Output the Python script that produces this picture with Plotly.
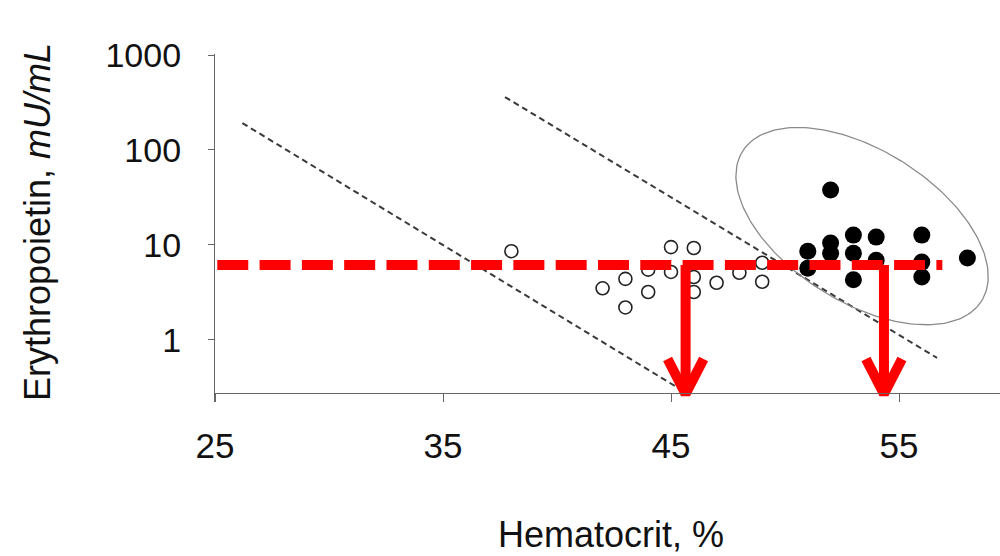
import numpy as np
import plotly.graph_objects as go

# ---------------- data ----------------
x_ticks = [25, 35, 45, 55]
y_ticks = [1, 10, 100, 1000]
y_tick_labels = ["1", "10", "100", "1000"]

# open circles (control group)
open_hct = [38, 45, 46, 44, 45, 46, 43, 42, 44, 46, 47, 48, 49, 43, 49]
open_epo = [8.6, 9.5, 9.3, 5.5, 5.2, 4.6, 4.4, 3.5, 3.2, 3.2, 4.0, 5.1, 4.1, 2.2, 6.5]

# filled circles (erythrocytosis group)
filled_hct = [51, 51, 52, 52, 52, 53, 53, 53, 54, 54, 56, 56, 56, 58]
filled_epo = [8.6, 5.7, 10.5, 8.2, 37.9, 12.7, 8.2, 4.3, 12.1, 6.9, 12.7, 6.6, 4.6, 7.3]

# dashed reference lines (hematocrit, EPO) start/end
line1_hct = [26.2, 45.75]
line1_epo = [192, 0.27]
line2_hct = [37.72, 56.67]
line2_epo = [361, 0.647]

# ellipse (center hct, center EPO)
ellipse_center_hct = 53.38
ellipse_center_epo = 15.8

# red threshold and arrows
threshold_epo = 6.16
threshold_hct = [25.1, 56.9]
arrow_hct = [45.64, 54.34]
arrow_tip_epo = 0.27

# ---------------- layout geometry ----------------
W, H = 1000, 556
L, R, T, B = 215, 0, 54, 154
plot_w = W - L - R
plot_h = H - T - B
x_range = [25, 25 + plot_w / 22.8]
y_range = [-0.653, 3.0105]
px_per_x = plot_w / (x_range[1] - x_range[0])
px_per_dec = plot_h / (y_range[1] - y_range[0])

FONT = "Liberation Sans, Arial, Helvetica, sans-serif"

fig = go.Figure()

# black dashed diagonal lines
for xs, ys in [(line1_hct, line1_epo), (line2_hct, line2_epo)]:
    fig.add_trace(go.Scatter(x=xs, y=ys, mode="lines",
                             line=dict(color="#3a3a3a", width=2, dash="6px,4px"),
                             showlegend=False, hoverinfo="skip"))

# ellipse (pixel-space parameters converted to data)
a_px, b_px, ang = 141, 76, np.deg2rad(32)
t = np.linspace(0, 2 * np.pi, 200)
dx_px = a_px * np.cos(t) * np.cos(ang) - b_px * np.sin(t) * np.sin(ang)
dy_px = a_px * np.cos(t) * np.sin(ang) + b_px * np.sin(t) * np.cos(ang)
ell_x = ellipse_center_hct + dx_px / px_per_x
ell_y = 10 ** (np.log10(ellipse_center_epo) - dy_px / px_per_dec)
fig.add_trace(go.Scatter(x=ell_x, y=ell_y, mode="lines",
                         line=dict(color="#8a8a8a", width=1.3),
                         showlegend=False, hoverinfo="skip"))

# open circles
fig.add_trace(go.Scatter(x=open_hct, y=open_epo, mode="markers",
                         marker=dict(symbol="circle", size=13, color="white",
                                     line=dict(color="#222222", width=1.6)),
                         showlegend=False))
# filled circles
fig.add_trace(go.Scatter(x=filled_hct, y=filled_epo, mode="markers",
                         marker=dict(symbol="circle", size=17, color="#000000",
                                     line=dict(width=0)),
                         showlegend=False))

# red dashed threshold line
fig.add_trace(go.Scatter(x=threshold_hct, y=[threshold_epo, threshold_epo], mode="lines",
                         line=dict(color="#ff0000", width=10, dash="31px,11.3px"),
                         showlegend=False, hoverinfo="skip"))

# red arrows
arm_dx = 18 / px_per_x
arm_dlog = 35 / px_per_dec
for ax_ in arrow_hct:
    tip_log = np.log10(arrow_tip_epo)
    xs = [ax_, ax_, None, ax_ - arm_dx, ax_, ax_ + arm_dx]
    ys = [threshold_epo, arrow_tip_epo, None,
          10 ** (tip_log + arm_dlog), arrow_tip_epo, 10 ** (tip_log + arm_dlog)]
    fig.add_trace(go.Scatter(x=xs, y=ys, mode="lines",
                             line=dict(color="#ff0000", width=10),
                             showlegend=False, hoverinfo="skip"))

fig.update_layout(
    width=W, height=H,
    margin=dict(l=L, r=R, t=T, b=B, pad=0),
    paper_bgcolor="white", plot_bgcolor="white",
    font=dict(family=FONT, color="#111111"),
    xaxis=dict(range=x_range, tickvals=x_ticks, ticktext=[str(v) for v in x_ticks],
               showgrid=False, zeroline=False, showline=True, linecolor="#666666",
               linewidth=1.3, ticks="outside", ticklen=8, tickcolor="#666666",
               ticklabelstandoff=14,
               tickfont=dict(size=35, family=FONT, color="#111111"),
               anchor="free", position=9 / plot_h),
    yaxis=dict(type="log", range=y_range, tickvals=y_ticks, ticktext=y_tick_labels,
               showgrid=False, zeroline=False, showline=True, linecolor="#666666",
               linewidth=1.3, ticks="outside", ticklen=6, tickcolor="#666666",
               ticklabelstandoff=20,
               tickfont=dict(size=34, family=FONT, color="#111111")),
    annotations=[
        dict(text="Hematocrit, %", xref="paper", yref="paper",
             x=(611 - L) / plot_w, y=(H - B - 534) / plot_h,
             showarrow=False, xanchor="center", yanchor="middle",
             font=dict(size=36, family=FONT, color="#111111")),
        dict(text="Erythropoietin, <i>mU/mL</i>", xref="paper", yref="paper",
             x=(37 - L) / plot_w, y=(H - B - 222) / plot_h, textangle=-90,
             showarrow=False, xanchor="center", yanchor="middle",
             font=dict(size=36, family=FONT, color="#111111")),
    ],
)

fig.write_html("out.html")
